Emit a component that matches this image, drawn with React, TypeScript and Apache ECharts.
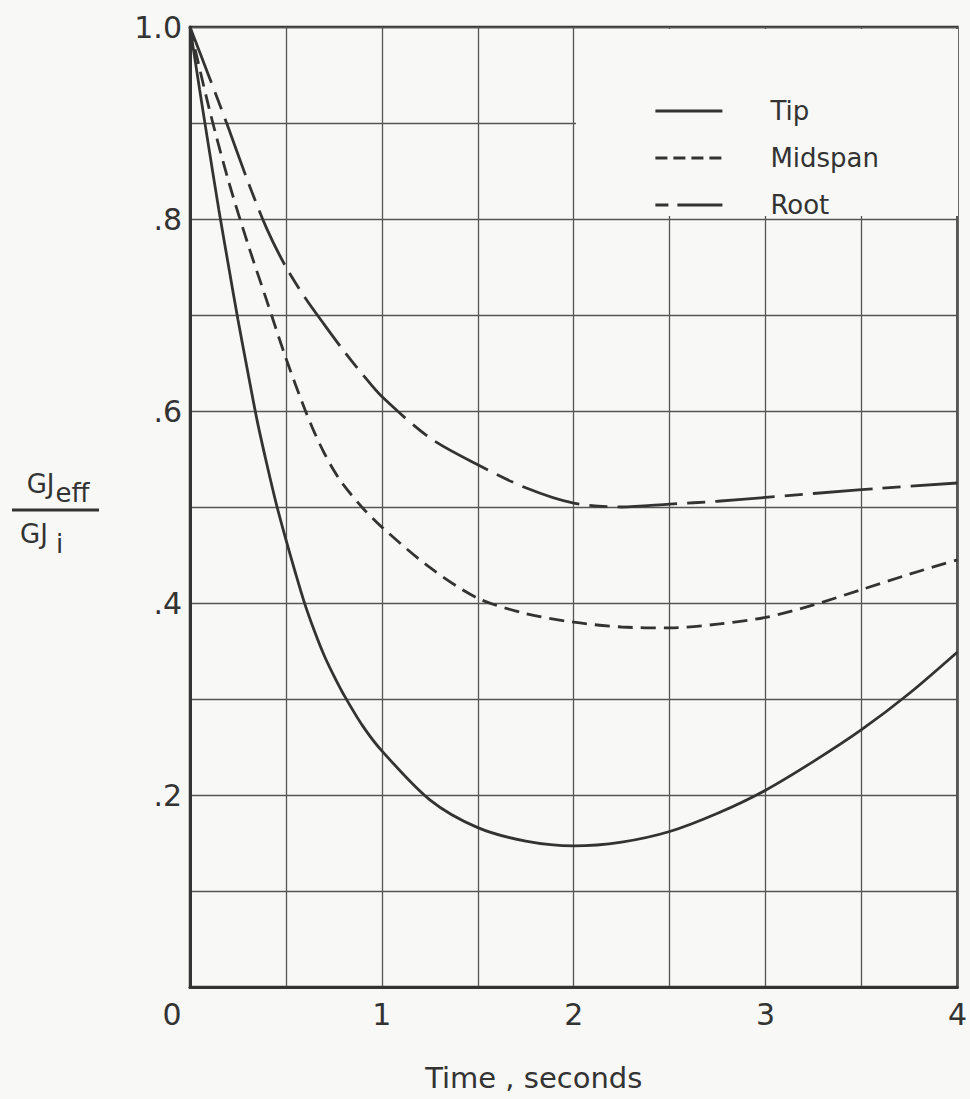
import React, { useEffect, useRef } from "react";
import * as echarts from "echarts";

// Time, seconds (sample positions along the x axis)
const tipX = [0, 0.05, 0.1, 0.15, 0.2, 0.25, 0.3, 0.35, 0.4, 0.45, 0.5, 0.55, 0.6, 0.65, 0.7, 0.75, 0.8, 0.9, 1.0, 1.25, 1.5, 1.75, 2.0, 2.25, 2.5, 2.75, 3.0, 3.25, 3.5, 3.75, 4.0];
const tipY = [1.0, 0.935, 0.872, 0.81, 0.752, 0.695, 0.642, 0.59, 0.545, 0.503, 0.466, 0.431, 0.398, 0.37, 0.345, 0.324, 0.305, 0.272, 0.246, 0.195, 0.166, 0.152, 0.147, 0.151, 0.162, 0.181, 0.205, 0.235, 0.268, 0.306, 0.349];

const midX = [0, 0.1, 0.2, 0.3, 0.4, 0.5, 0.6, 0.65, 0.7, 0.75, 0.8, 0.9, 1.0, 1.25, 1.5, 1.75, 2.0, 2.25, 2.5, 2.75, 3.0, 3.25, 3.5, 3.75, 4.0];
const midY = [1.0, 0.915, 0.84, 0.775, 0.715, 0.655, 0.601, 0.577, 0.556, 0.538, 0.523, 0.499, 0.479, 0.437, 0.405, 0.389, 0.38, 0.375, 0.374, 0.378, 0.385, 0.398, 0.414, 0.43, 0.445];

const rootX = [0, 0.1, 0.2, 0.3, 0.4, 0.5, 0.6, 0.7, 0.8, 0.9, 1.0, 1.25, 1.5, 1.75, 2.0, 2.25, 2.5, 2.75, 3.0, 3.5, 4.0];
const rootY = [1.0, 0.948, 0.895, 0.84, 0.79, 0.75, 0.718, 0.69, 0.663, 0.638, 0.615, 0.572, 0.544, 0.52, 0.504, 0.5, 0.503, 0.506, 0.51, 0.518, 0.525];

const seriesNames = ["Tip", "Midspan", "Root"];
const xTickLabels = ["0", "1", "2", "3", "4"];
const yTickLabels = [".2", ".4", ".6", ".8", "1.0"];

const pairs = (xs: number[], ys: number[]) => xs.map((x, i) => [x, ys[i]]);

const INK = "#333333";
const BG = "#f8f8f6";
const FONT = "DejaVu Sans";
const LW = 2.8;

export default function App() {
  const ref = useRef<HTMLDivElement>(null);
  useEffect(() => {
    document.body.style.margin = "0";
    const chart = echarts.init(ref.current!, null, { renderer: "svg" });
    chart.setOption({
      animation: false,
      backgroundColor: BG,
      grid: {
        left: 190,
        right: 10,
        top: 27,
        bottom: 112,
        show: true,
        borderColor: INK,
        borderWidth: 2.5,
        backgroundColor: "transparent",
      },
      legend: {
        data: [
          { name: seriesNames[0] },
          { name: seriesNames[1], lineStyle: { type: [12, 6] } },
          { name: seriesNames[2], lineStyle: { type: [13, 9, 45, 0] } },
        ],
        orient: "vertical",
        left: 649,
        top: 91,
        itemWidth: 67,
        itemHeight: 14,
        itemGap: 17,
        itemStyle: { opacity: 0 },
        lineStyle: { width: LW },
        textStyle: {
          fontFamily: FONT,
          fontSize: 26,
          color: INK,
          lineHeight: 30,
          padding: [0, 0, 0, 43],
        },
      },
      xAxis: {
        type: "value",
        min: 0,
        max: 4,
        interval: 0.5,
        name: "Time , seconds",
        nameLocation: "middle",
        nameGap: 76,
        nameTextStyle: {
          fontFamily: FONT,
          fontSize: 29,
          color: INK,
          padding: [0, 80, 0, 0],
        },
        axisLine: { show: true, lineStyle: { color: INK, width: 3 } },
        axisTick: { show: false },
        splitLine: { show: true, lineStyle: { color: "#555", width: 1.3 } },
        axisLabel: {
          margin: 12,
          fontFamily: FONT,
          fontSize: 30,
          color: INK,
          formatter: (v: number) => {
            if (Math.abs(v - Math.round(v)) > 1e-6) return "";
            const s = xTickLabels[Math.round(v)];
            return v === 0 ? "{z|" + s + "}" : s;
          },
          rich: {
            z: { fontFamily: FONT, fontSize: 30, color: INK, padding: [0, 36, 0, 0] },
          },
        },
      },
      yAxis: {
        type: "value",
        min: 0,
        max: 1,
        interval: 0.1,
        axisLine: { show: true, lineStyle: { color: INK, width: 3 } },
        axisTick: { show: false },
        splitLine: { show: true, lineStyle: { color: "#555", width: 1.3 } },
        axisLabel: {
          margin: 8,
          fontFamily: FONT,
          fontSize: 30,
          color: INK,
          formatter: (v: number) => {
            const k = Math.round(v * 10);
            if (k === 0 || k % 2 !== 0) return "";
            return yTickLabels[k / 2 - 1];
          },
        },
      },
      graphic: [
        {
          type: "rect",
          z: 1,
          shape: { x: 576, y: 29, width: 382, height: 187 },
          style: { fill: BG },
        },
        {
          type: "text",
          x: 58,
          y: 497,
          style: {
            text: "{a|GJ}{b|eff}",
            align: "center",
            verticalAlign: "bottom",
            rich: {
              a: { fontFamily: FONT, fontSize: 26, fill: INK, verticalAlign: "bottom" },
              b: { fontFamily: FONT, fontSize: 26, fill: INK, verticalAlign: "bottom", padding: [0, 0, -9, 1] },
            },
          },
        },
        {
          type: "line",
          shape: { x1: 12, y1: 510, x2: 99, y2: 510 },
          style: { stroke: INK, lineWidth: 2.8 },
        },
        {
          type: "text",
          x: 20,
          y: 521,
          style: {
            text: "{a|GJ}{b| i}",
            align: "left",
            verticalAlign: "top",
            rich: {
              a: { fontFamily: FONT, fontSize: 26, fill: INK, verticalAlign: "top" },
              b: { fontFamily: FONT, fontSize: 26, fill: INK, verticalAlign: "top", padding: [10, 0, 0, 0] },
            },
          },
        },
      ],
      series: [
        {
          name: seriesNames[0],
          type: "line",
          data: pairs(tipX, tipY),
          smooth: 0.3,
          symbol: "none",
          lineStyle: { color: INK, width: LW, type: "solid" },
          itemStyle: { color: INK },
        },
        {
          name: seriesNames[1],
          type: "line",
          data: pairs(midX, midY),
          smooth: 0.3,
          symbol: "none",
          lineStyle: { color: INK, width: LW, type: [15, 8] },
          itemStyle: { color: INK },
        },
        {
          name: seriesNames[2],
          type: "line",
          data: pairs(rootX, rootY),
          smooth: 0.3,
          symbol: "none",
          lineStyle: { color: INK, width: LW, type: [60, 10, 18, 10] },
          itemStyle: { color: INK },
        },
      ],
    });
    return () => chart.dispose();
  }, []);
  return <div ref={ref} style={{ width: 970, height: 1099 }} />;
}
